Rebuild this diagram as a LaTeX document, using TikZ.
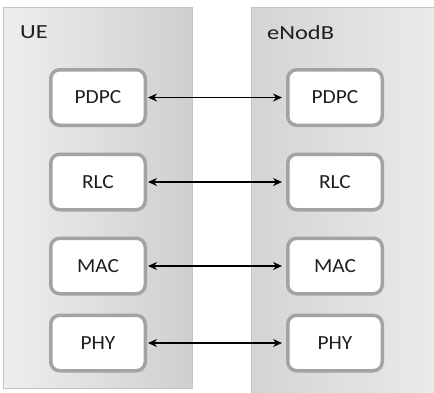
\documentclass[tikz,border=0pt]{standalone}
\usepackage{fontspec}
\setmainfont{Carlito}
\newfontfamily\titlefont[FakeStretch=1.22]{Carlito}
\newfontfamily\layerfont[FakeStretch=1.07]{Carlito}
\usetikzlibrary{arrows.meta}
\definecolor{pl}{HTML}{EEEEEE}
\definecolor{pd}{HTML}{CFCFCF}
\definecolor{rl}{HTML}{D4D4D4}
\definecolor{rr}{HTML}{EAEAEA}
\definecolor{pedge}{HTML}{C4C4C4}
\definecolor{bedge}{HTML}{A3A3A3}
\definecolor{txt}{HTML}{1E1E1E}
\begin{document}
\begin{tikzpicture}[x=1pt,y=-1pt,
  panel/.style={draw=pedge,line width=0.8pt},
  layer/.style={draw=bedge,line width=3.5pt,fill=white,rounded corners=9pt,text=txt,
    minimum width=94.5pt,minimum height=55.5pt,inner sep=0pt,font=\layerfont\fontsize{20}{24}\selectfont},
  title/.style={anchor=base west,inner sep=0pt,text=txt,font=\titlefont\fontsize{20}{24}\selectfont},
  link/.style={{Stealth[length=9pt,width=8pt]}-{Stealth[length=9pt,width=8pt]},line width=1.3pt,black}]
\useasboundingbox (0,0) rectangle (434,392);
\fill[white] (0,0) rectangle (434,392);
\shade[left color=pl,right color=pd] (3,7) rectangle (192,388);
\draw[panel] (3,7) rectangle (192,388);
\shade[left color=rl,right color=rr] (251,7) rectangle (434,392);
\draw[panel] (251,7) -- (251,392) (251,7) -- (434,7);
\node[title] (ue) at (20,38) {UE};
\node[title] (enb) at (267,39) {eNodB};
\node[layer] (l1) at (98,97.5) {PDPC};
\node[layer] (l2) at (98,182) {RLC};
\node[layer] (l3) at (98,266) {MAC};
\node[layer] (l4) at (98,343) {PHY};
\node[layer] (r1) at (335,97.5) {PDPC};
\node[layer] (r2) at (335,182) {RLC};
\node[layer] (r3) at (335,266) {MAC};
\node[layer] (r4) at (335,343) {PHY};
\draw[link] ([xshift=1pt]l1.east) -- ([xshift=-4pt]r1.west);
\draw[link] ([xshift=1pt]l2.east) -- ([xshift=-4pt]r2.west);
\draw[link] ([xshift=1pt]l3.east) -- ([xshift=-4pt]r3.west);
\draw[link] ([xshift=1pt]l4.east) -- ([xshift=-4pt]r4.west);
\end{tikzpicture}
\end{document}
